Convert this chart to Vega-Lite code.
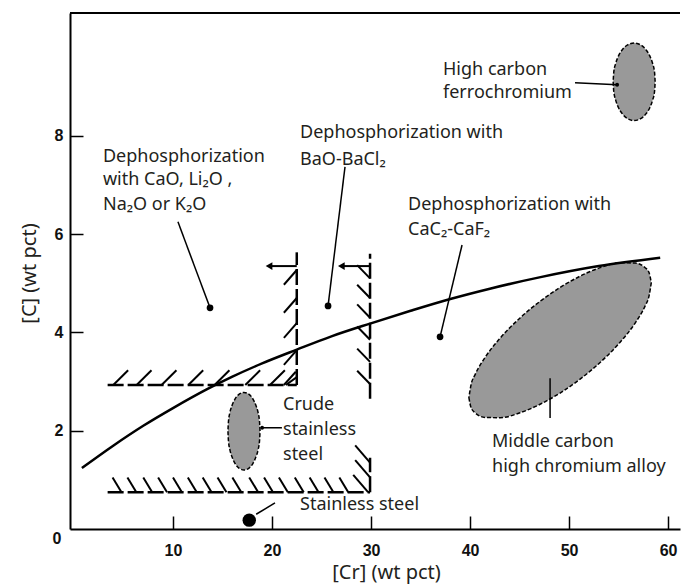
{
  "$schema": "https://vega.github.io/schema/vega-lite/v6.json",
  "width": 610,
  "height": 516,
  "autosize": {"type": "none"},
  "padding": {"left": 70, "top": 13, "right": 1, "bottom": 58},
  "background": "white",
  "config": {"view": {"stroke": null}},
  "datasets": {
    "curve": [
      {"x": 0.8, "y": 1.24}, {"x": 4, "y": 1.7}, {"x": 7, "y": 2.1}, {"x": 10, "y": 2.46},
      {"x": 13.4, "y": 2.84}, {"x": 16, "y": 3.1}, {"x": 19, "y": 3.37}, {"x": 22.5, "y": 3.65},
      {"x": 26, "y": 3.92}, {"x": 29.9, "y": 4.18}, {"x": 34, "y": 4.44}, {"x": 38, "y": 4.68},
      {"x": 42, "y": 4.89}, {"x": 47, "y": 5.12}, {"x": 53, "y": 5.35}, {"x": 59.2, "y": 5.52}
    ],
    "frame": [{"x": -0.4, "y": 10.5, "x2": 61.2, "y2": 10.5}],
    "walls": [
      {"x": 3.4, "y": 2.93, "x2": 22.5, "y2": 2.93},
      {"x": 22.5, "y": 2.93, "x2": 22.5, "y2": 5.63},
      {"x": 29.9, "y": 2.65, "x2": 29.9, "y2": 5.6},
      {"x": 29.9, "y": 0.75, "x2": 29.9, "y2": 1.45},
      {"x": 3.4, "y": 0.75, "x2": 29.9, "y2": 0.75}
    ],
    "shafts": [
      {"x": 19.9, "y": 5.35, "x2": 22.5, "y2": 5.35},
      {"x": 27.2, "y": 5.35, "x2": 29.9, "y2": 5.35}
    ],
    "heads": [{"x": 19.7, "y": 5.35}, {"x": 27.0, "y": 5.35}],
    "hatch": [
      {"x": 3.97, "y": 2.93, "x2": 5.47, "y2": 3.23},
      {"x": 6.33, "y": 2.93, "x2": 7.83, "y2": 3.23},
      {"x": 8.85, "y": 2.93, "x2": 10.35, "y2": 3.23},
      {"x": 11.55, "y": 2.93, "x2": 13.05, "y2": 3.23},
      {"x": 14.2, "y": 2.93, "x2": 15.7, "y2": 3.23},
      {"x": 17.3, "y": 2.93, "x2": 18.8, "y2": 3.23},
      {"x": 19.8, "y": 2.93, "x2": 21.3, "y2": 3.23},
      {"x": 21.2, "y": 2.93, "x2": 22.4, "y2": 3.2},
      {"x": 22.5, "y": 5.27, "x2": 21.2, "y2": 4.97},
      {"x": 22.5, "y": 4.7, "x2": 21.2, "y2": 4.4},
      {"x": 22.5, "y": 4.19, "x2": 21.2, "y2": 3.89},
      {"x": 22.5, "y": 3.64, "x2": 21.2, "y2": 3.34},
      {"x": 22.5, "y": 3.09, "x2": 21.4, "y2": 2.93},
      {"x": 29.9, "y": 5.1, "x2": 28.6, "y2": 5.37},
      {"x": 29.9, "y": 4.7, "x2": 28.6, "y2": 4.97},
      {"x": 29.9, "y": 4.3, "x2": 28.6, "y2": 4.57},
      {"x": 29.9, "y": 3.85, "x2": 28.6, "y2": 4.12},
      {"x": 29.9, "y": 3.4, "x2": 28.6, "y2": 3.67},
      {"x": 29.9, "y": 2.95, "x2": 28.6, "y2": 3.22},
      {"x": 29.9, "y": 1.35, "x2": 28.4, "y2": 1.7},
      {"x": 29.9, "y": 1.05, "x2": 28.4, "y2": 1.4},
      {"x": 29.7, "y": 0.75, "x2": 28.2, "y2": 1.1},
      {"x": 3.9, "y": 1.05, "x2": 4.8, "y2": 0.75},
      {"x": 5.4, "y": 1.05, "x2": 6.3, "y2": 0.75},
      {"x": 7.0, "y": 1.05, "x2": 7.9, "y2": 0.75},
      {"x": 8.5, "y": 1.05, "x2": 9.4, "y2": 0.75},
      {"x": 10.0, "y": 1.05, "x2": 10.9, "y2": 0.75},
      {"x": 11.5, "y": 1.05, "x2": 12.4, "y2": 0.75},
      {"x": 13.0, "y": 1.05, "x2": 13.9, "y2": 0.75},
      {"x": 14.5, "y": 1.05, "x2": 15.4, "y2": 0.75},
      {"x": 16.0, "y": 1.05, "x2": 16.9, "y2": 0.75},
      {"x": 17.7, "y": 1.05, "x2": 18.6, "y2": 0.75},
      {"x": 19.2, "y": 1.05, "x2": 20.1, "y2": 0.75},
      {"x": 20.7, "y": 1.05, "x2": 21.6, "y2": 0.75},
      {"x": 22.3, "y": 1.05, "x2": 23.2, "y2": 0.75},
      {"x": 23.8, "y": 1.05, "x2": 24.7, "y2": 0.75},
      {"x": 25.3, "y": 1.05, "x2": 26.2, "y2": 0.75},
      {"x": 26.8, "y": 1.05, "x2": 27.7, "y2": 0.75}
    ],
    "leaders": [
      {"x": 10.5, "y": 6.25, "x2": 13.74, "y2": 4.5},
      {"x": 27.37, "y": 7.37, "x2": 25.66, "y2": 4.54},
      {"x": 39.19, "y": 5.78, "x2": 36.97, "y2": 3.91},
      {"x": 50.6, "y": 9.08, "x2": 54.85, "y2": 9.04},
      {"x": 19.0, "y": 2.06, "x2": 21.0, "y2": 2.06},
      {"x": 48.08, "y": 3.07, "x2": 48.08, "y2": 2.26},
      {"x": 20.3, "y": 0.53, "x2": 18.4, "y2": 0.3}
    ],
    "blobs": [
      {"id": "crude", "x": 15.55, "y": 1.99, "y2": 1.99},
      {"id": "crude", "x": 15.6, "y": 1.798, "y2": 2.182},
      {"id": "crude", "x": 15.75, "y": 1.608, "y2": 2.372},
      {"id": "crude", "x": 15.96, "y": 1.468, "y2": 2.512},
      {"id": "crude", "x": 16.26, "y": 1.337, "y2": 2.643},
      {"id": "crude", "x": 16.66, "y": 1.24, "y2": 2.74},
      {"id": "crude", "x": 17.17, "y": 1.2, "y2": 2.78},
      {"id": "crude", "x": 17.68, "y": 1.24, "y2": 2.74},
      {"id": "crude", "x": 18.08, "y": 1.337, "y2": 2.643},
      {"id": "crude", "x": 18.38, "y": 1.468, "y2": 2.512},
      {"id": "crude", "x": 18.59, "y": 1.608, "y2": 2.372},
      {"id": "crude", "x": 18.74, "y": 1.798, "y2": 2.182},
      {"id": "crude", "x": 18.79, "y": 1.99, "y2": 1.99},
      {"id": "hcfecr", "x": 54.45, "y": 9.1, "y2": 9.1},
      {"id": "hcfecr", "x": 54.51, "y": 8.908, "y2": 9.292},
      {"id": "hcfecr", "x": 54.72, "y": 8.718, "y2": 9.482},
      {"id": "hcfecr", "x": 54.98, "y": 8.578, "y2": 9.622},
      {"id": "hcfecr", "x": 55.38, "y": 8.447, "y2": 9.753},
      {"id": "hcfecr", "x": 55.91, "y": 8.35, "y2": 9.85},
      {"id": "hcfecr", "x": 56.57, "y": 8.31, "y2": 9.89},
      {"id": "hcfecr", "x": 57.23, "y": 8.35, "y2": 9.85},
      {"id": "hcfecr", "x": 57.76, "y": 8.447, "y2": 9.753},
      {"id": "hcfecr", "x": 58.16, "y": 8.578, "y2": 9.622},
      {"id": "hcfecr", "x": 58.42, "y": 8.718, "y2": 9.482},
      {"id": "hcfecr", "x": 58.63, "y": 8.908, "y2": 9.292},
      {"id": "hcfecr", "x": 58.69, "y": 9.1, "y2": 9.1},
      {"id": "mccr", "x": 39.88, "y": 2.674, "y2": 2.674},
      {"id": "mccr", "x": 40.1, "y": 2.47, "y2": 2.935},
      {"id": "mccr", "x": 40.51, "y": 2.365, "y2": 3.142},
      {"id": "mccr", "x": 41.52, "y": 2.271, "y2": 3.492},
      {"id": "mccr", "x": 43.03, "y": 2.265, "y2": 3.882},
      {"id": "mccr", "x": 45.05, "y": 2.365, "y2": 4.295},
      {"id": "mccr", "x": 47.07, "y": 2.538, "y2": 4.633},
      {"id": "mccr", "x": 49.09, "y": 2.767, "y2": 4.915},
      {"id": "mccr", "x": 51.11, "y": 3.05, "y2": 5.145},
      {"id": "mccr", "x": 53.13, "y": 3.388, "y2": 5.318},
      {"id": "mccr", "x": 55.15, "y": 3.801, "y2": 5.418},
      {"id": "mccr", "x": 56.67, "y": 4.191, "y2": 5.412},
      {"id": "mccr", "x": 57.68, "y": 4.541, "y2": 5.317},
      {"id": "mccr", "x": 58.08, "y": 4.748, "y2": 5.213},
      {"id": "mccr", "x": 58.3, "y": 5.009, "y2": 5.009}
    ],
    "dots": [{"x": 13.74, "y": 4.5}, {"x": 25.66, "y": 4.54}, {"x": 36.97, "y": 3.91}],
    "pins": [{"x": 54.85, "y": 9.04}, {"x": 19.0, "y": 2.06}],
    "stainless": [{"x": 17.7, "y": 0.18}],
    "corner": [{"x": 0, "y": 0, "t": "0"}],
    "labels": [
      {"x": 2.93, "y": 7.47, "t": "Dephosphorization"},
      {"x": 2.93, "y": 7.0, "t": "with CaO, Li₂O ,"},
      {"x": 2.93, "y": 6.49, "t": "Na₂O or K₂O"},
      {"x": 22.83, "y": 7.96, "t": "Dephosphorization with"},
      {"x": 22.83, "y": 7.41, "t": "BaO-BaCl₂"},
      {"x": 33.74, "y": 6.49, "t": "Dephosphorization with"},
      {"x": 33.74, "y": 5.98, "t": "CaC₂-CaF₂"},
      {"x": 37.27, "y": 9.24, "t": "High carbon"},
      {"x": 37.27, "y": 8.77, "t": "ferrochromium"},
      {"x": 21.11, "y": 2.42, "t": "Crude"},
      {"x": 21.11, "y": 1.91, "t": "stainless"},
      {"x": 21.11, "y": 1.4, "t": "steel"},
      {"x": 42.22, "y": 1.67, "t": "Middle carbon"},
      {"x": 42.22, "y": 1.16, "t": "high chromium alloy"},
      {"x": 22.83, "y": 0.39, "t": "Stainless steel"}
    ]
  },
  "encoding": {
    "x": {
      "field": "x", "type": "quantitative",
      "scale": {"domain": [-0.4, 61.2], "nice": false, "zero": false},
      "axis": {
        "values": [10, 20, 30, 40, 50, 60], "grid": false,
        "domainColor": "#000", "domainWidth": 2,
        "tickColor": "#000", "tickWidth": 1.5, "tickSize": -13,
        "labelFont": "Liberation Sans", "labelFontSize": 16, "labelFontWeight": "bold", "labelColor": "#111",
        "labelPadding": 26,
        "title": "[Cr] (wt pct)", "titleFont": "Noto Sans", "titleFontSize": 20, "titleFontWeight": "normal",
        "titleColor": "#231f20", "titleX": 316, "titleY": 49, "titleBaseline": "alphabetic", "titleAlign": "center"
      }
    },
    "y": {
      "field": "y", "type": "quantitative",
      "scale": {"domain": [0, 10.5], "nice": false, "zero": false},
      "axis": {
        "values": [2, 4, 6, 8], "grid": false,
        "domainColor": "#000", "domainWidth": 2,
        "tickColor": "#000", "tickWidth": 1.5, "tickSize": -13,
        "labelFont": "Liberation Sans", "labelFontSize": 16, "labelFontWeight": "bold", "labelColor": "#111",
        "labelPadding": 20,
        "title": "[C] (wt pct)", "titleFont": "Noto Sans", "titleFontSize": 20, "titleFontWeight": "normal",
        "titleColor": "#231f20", "titleX": -35, "titleY": 260, "titleAngle": -90, "titleBaseline": "alphabetic", "titleAlign": "center"
      }
    }
  },
  "layer": [
    {
      "data": {"name": "blobs"},
      "mark": {"type": "area", "interpolate": "monotone", "fill": "#999999", "stroke": "#000", "strokeWidth": 1.5, "strokeDash": [4, 2]},
      "encoding": {"y2": {"field": "y2"}, "detail": {"field": "id"}}
    },
    {
      "data": {"name": "frame"},
      "mark": {"type": "rule", "color": "#000", "strokeWidth": 2},
      "encoding": {"x2": {"field": "x2"}, "y2": {"field": "y2"}}
    },
    {
      "data": {"name": "walls"},
      "mark": {"type": "rule", "color": "#000", "strokeWidth": 2.5, "strokeDash": [16, 4]},
      "encoding": {"x2": {"field": "x2"}, "y2": {"field": "y2"}}
    },
    {
      "data": {"name": "shafts"},
      "mark": {"type": "rule", "color": "#000", "strokeWidth": 2},
      "encoding": {"x2": {"field": "x2"}, "y2": {"field": "y2"}}
    },
    {
      "data": {"name": "heads"},
      "mark": {"type": "point", "shape": "triangle-left", "filled": true, "color": "#000", "size": 60, "opacity": 1},
      "encoding": {}
    },
    {
      "data": {"name": "hatch"},
      "mark": {"type": "rule", "color": "#000", "strokeWidth": 2},
      "encoding": {"x2": {"field": "x2"}, "y2": {"field": "y2"}}
    },
    {
      "data": {"name": "leaders"},
      "mark": {"type": "rule", "color": "#000", "strokeWidth": 1.5},
      "encoding": {"x2": {"field": "x2"}, "y2": {"field": "y2"}}
    },
    {
      "data": {"name": "curve"},
      "mark": {"type": "line", "interpolate": "monotone", "color": "#000", "strokeWidth": 2.5},
      "encoding": {}
    },
    {
      "data": {"name": "dots"},
      "mark": {"type": "circle", "color": "#000", "size": 45, "opacity": 1},
      "encoding": {}
    },
    {
      "data": {"name": "pins"},
      "mark": {"type": "circle", "color": "#000", "size": 15, "opacity": 1},
      "encoding": {}
    },
    {
      "data": {"name": "stainless"},
      "mark": {"type": "circle", "color": "#000", "size": 180, "opacity": 1},
      "encoding": {}
    },
    {
      "data": {"name": "labels"},
      "mark": {"type": "text", "align": "left", "baseline": "alphabetic", "font": "Noto Sans", "fontSize": 18, "color": "#231f20"},
      "encoding": {"text": {"field": "t"}}
    },
    {
      "data": {"name": "corner"},
      "mark": {"type": "text", "align": "center", "baseline": "middle", "font": "Liberation Sans", "fontSize": 16, "fontWeight": "bold", "color": "#111", "dx": -17, "dy": 10},
      "encoding": {"text": {"field": "t"}}
    }
  ]
}
